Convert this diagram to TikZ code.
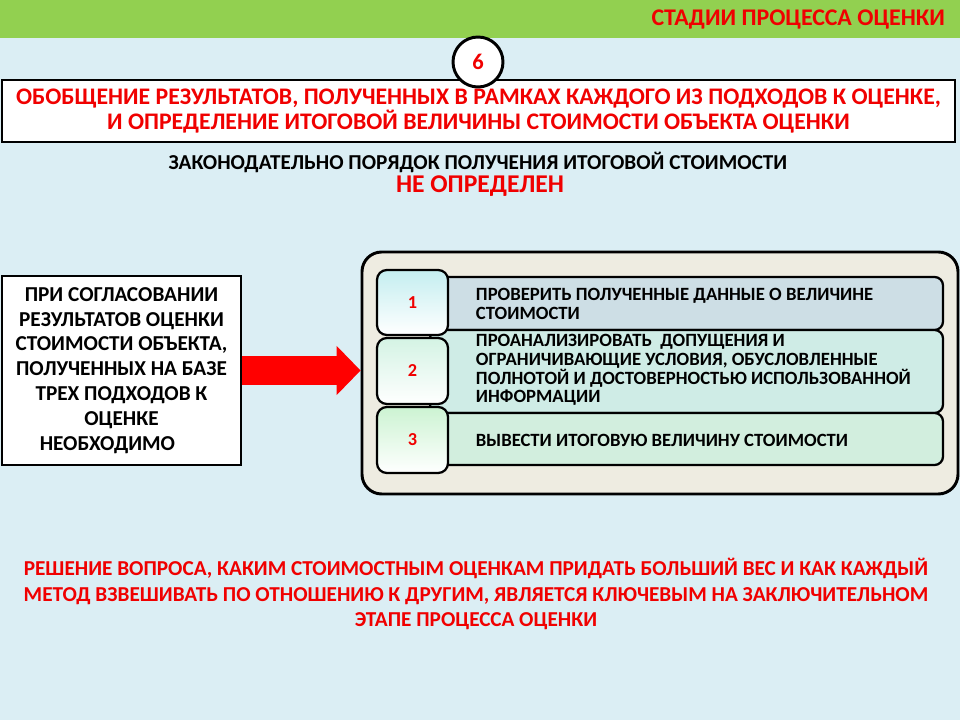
\documentclass[tikz,border=0pt]{standalone}
\usepackage{fontspec}
\setmainfont{Carlito}
\usepackage{tikz}
\usetikzlibrary{arrows.meta,positioning}
\definecolor{bgblue}{RGB}{219,238,244}
\definecolor{topgreen}{RGB}{146,208,80}
\definecolor{txtred}{RGB}{240,0,0}
\definecolor{framebg}{RGB}{238,236,225}
\definecolor{barone}{RGB}{205,222,229}
\definecolor{bartwo}{RGB}{207,236,230}
\definecolor{barthree}{RGB}{210,238,222}
\newcommand{\fsz}[2]{\fontsize{#1}{#2}\selectfont\bfseries}

\begin{document}
\begin{tikzpicture}[x=0.025cm, y=-0.025cm,
  box/.style = {draw, line width=2.1pt, fill=white, inner sep=0pt, align=center},
  bar/.style = {draw, line width=1.6pt, rounded corners=6pt, minimum width=513*0.025cm},
  numbox/.style = {draw, line width=1.6pt, rounded corners=7pt, minimum width=71*0.025cm,
    minimum height=66*0.025cm, bottom color=white, text=txtred, font=\fsz{13}{15}},
  steptext/.style = {anchor=west, align=left, font=\fsz{13.3}{13.3}}]
  \useasboundingbox (0,0) rectangle (960,720);
  \fill[bgblue] (0,0) rectangle (960,720);
  \fill[topgreen] (0,0) rectangle (960,38);

  \node[anchor=east, text=txtred, font=\fsz{17}{19}] (stage) at (950,20) {СТАДИИ ПРОЦЕССА ОЦЕНКИ};

  \node[box, minimum width=953*0.025cm, minimum height=62*0.025cm, text=txtred, font=\fsz{16.9}{17.2}] (main) at (478.5,111)
    {ОБОБЩЕНИЕ РЕЗУЛЬТАТОВ, ПОЛУЧЕННЫХ В РАМКАХ КАЖДОГО ИЗ ПОДХОДОВ К ОЦЕНКЕ,\\
     И ОПРЕДЕЛЕНИЕ ИТОГОВОЙ ВЕЛИЧИНЫ СТОИМОСТИ ОБЪЕКТА ОЦЕНКИ};
  \node[circle, draw, line width=2.1pt, fill=white, minimum size=50*0.025cm, inner sep=0pt,
    text=txtred, font=\fsz{16}{18}] (six) at (478,62) {6};

  \node[font=\fsz{15.1}{17}] (law) at (478,162) {ЗАКОНОДАТЕЛЬНО ПОРЯДОК ПОЛУЧЕНИЯ ИТОГОВОЙ СТОИМОСТИ};
  \node[text=txtred, font=\fsz{18.2}{20}] (notdef) at (480,186) {НЕ ОПРЕДЕЛЕН};

  % left box and the frame with the three steps
  \node[box, minimum width=239*0.025cm, minimum height=189*0.025cm, font=\fsz{15.1}{17.7}] (left) at (121.5,370.5)
    {ПРИ СОГЛАСОВАНИИ\\ РЕЗУЛЬТАТОВ ОЦЕНКИ\\ СТОИМОСТИ ОБЪЕКТА,\\ ПОЛУЧЕННЫХ НА БАЗЕ\\
     ТРЕХ ПОДХОДОВ К\\ ОЦЕНКЕ\\ НЕОБХОДИМО\kern20pt};
  \node[draw, line width=2.1pt, rounded corners=14pt, fill=framebg, minimum width=596*0.025cm,
    minimum height=242*0.025cm] (outer) at (660,373) {};

  \node[bar, fill=barone, minimum height=53*0.025cm] (bar1) at (686.5,303.5) {};
  \node[bar, fill=bartwo, minimum height=83*0.025cm] (bar2) at (686.5,371.5) {};
  \node[bar, fill=barthree, minimum height=52*0.025cm] (bar3) at (686.5,439) {};

  \node[numbox, top color={rgb,255:red,196;green,238;blue,240}, minimum height=65*0.025cm] (n1) at (412.5,302.5) {1};
  \node[numbox, top color={rgb,255:red,212;green,243;blue,228}] (n2) at (412.5,371) {2};
  \node[numbox, top color={rgb,255:red,204;green,243;blue,210}] (n3) at (412.5,440) {3};

  \node[steptext] (s1) at (471,304) {ПРОВЕРИТЬ ПОЛУЧЕННЫЕ ДАННЫЕ О ВЕЛИЧИНЕ\\ СТОИМОСТИ};
  \node[steptext] (s2) at (471,370) {ПРОАНАЛИЗИРОВАТЬ~ ДОПУЩЕНИЯ И\\ ОГРАНИЧИВАЮЩИЕ УСЛОВИЯ, ОБУСЛОВЛЕННЫЕ\\
    ПОЛНОТОЙ И ДОСТОВЕРНОСТЬЮ ИСПОЛЬЗОВАННОЙ\\ ИНФОРМАЦИИ};
  \node[steptext] (s3) at (471,440) {ВЫВЕСТИ ИТОГОВУЮ ВЕЛИЧИНУ СТОИМОСТИ};

  \draw[red, line width=20pt, -{Triangle[length=17pt, width=35pt, line width=0pt]}]
    (left.east) -- (left.east -| outer.west);

  \node[text=txtred, align=center, font=\fsz{15.1}{18}] (key) at (476,594)
    {РЕШЕНИЕ ВОПРОСА, КАКИМ СТОИМОСТНЫМ ОЦЕНКАМ ПРИДАТЬ БОЛЬШИЙ ВЕС И КАК КАЖДЫЙ\\
     МЕТОД ВЗВЕШИВАТЬ ПО ОТНОШЕНИЮ К ДРУГИМ, ЯВЛЯЕТСЯ КЛЮЧЕВЫМ НА ЗАКЛЮЧИТЕЛЬНОМ\\
     ЭТАПЕ ПРОЦЕССА ОЦЕНКИ};
\end{tikzpicture}
\end{document}
